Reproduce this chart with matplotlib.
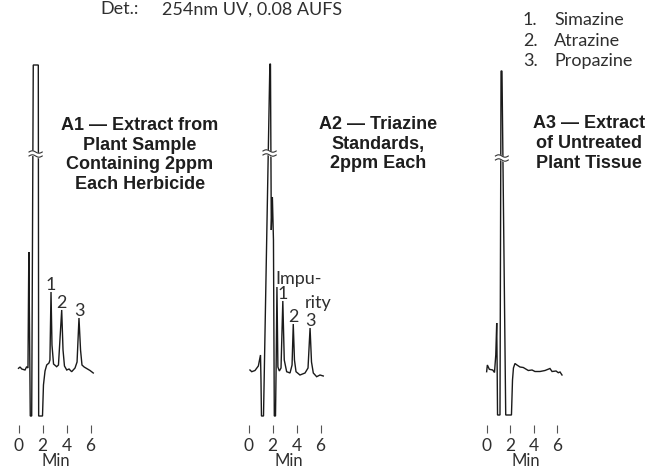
import numpy as np
import matplotlib.pyplot as plt

# chromatogram traces: time (min) and detector signal (relative units, baseline = 0)
t1 = [0.0, 0.13, 0.27, 0.54, 0.68, 0.79, 0.86, 0.92, 0.98, 1.1, 1.23, 1.65, 1.68, 2.0, 2.08, 2.21, 2.35, 2.54, 2.62, 2.71,
      2.79, 2.92, 3.18, 3.33, 3.6, 3.71, 3.83, 4.02, 4.21, 4.43, 4.71, 4.88, 5.04, 5.17, 5.29, 5.47, 5.68, 5.96, 6.23]
s1 = [0.17, 0.3, 0.1, 0.0, 0.33, 0.2, 11.8, 4.0, -4.6, -4.6, 30.5, 30.5, -4.6, -4.6, -1.5, -0.1, 0.5, 0.7, 1.0, 7.8,
      2.5, 0.6, 0.33, 0.5, 6.0, 2.0, 0.4, 0.0, 0.1, -0.17, 0.2, 0.8, 5.2, 2.0, 0.5, 0.3, 0.15, -0.05, -0.3]

t2 = [0.12, 0.27, 0.54, 0.82, 1.0, 1.04, 1.08, 1.25, 1.78, 1.83, 1.9, 1.99, 2.08, 2.15, 2.25, 2.31, 2.37, 2.45, 2.57, 2.71,
      2.86, 2.98, 3.18, 3.46, 3.63, 3.73, 3.83, 3.96, 4.29, 4.71, 4.96, 5.13, 5.25, 5.4, 5.68, 5.96, 6.23]
s2 = [0.0, -0.17, -0.05, 0.4, 1.5, -1.0, -4.6, -4.6, 30.6, 30.6, 14.0, 17.3, 13.0, -4.6, -4.6, 1.0, 8.3, 0.3, -0.1, 0.2,
      6.9, 1.0, -0.17, -0.3, 0.5, 4.6, 1.0, -0.17, -0.5, -0.3, 0.2, 4.2, 0.8, -0.3, -0.67, -0.5, -0.6]

t3 = [-0.03, 0.03, 0.2, 0.49, 0.64, 0.75, 0.83, 0.87, 0.9, 1.11, 1.2, 1.28, 1.6, 2.09, 2.18, 2.26, 2.39, 2.56, 2.82, 3.1,
      3.53, 3.85, 4.1, 4.53, 4.96, 5.38, 5.56, 5.9, 6.09, 6.24, 6.41]
s3 = [-0.17, 0.5, 0.07, 0.0, -0.25, 1.5, 4.7, 0.0, -4.5, -4.5, 29.9, 29.9, -4.5, -4.5, -1.0, 0.2, 0.65, 0.5, 0.3, 0.25,
      -0.05, 0.0, -0.15, -0.15, -0.05, 0.15, -0.15, -0.1, -0.27, -0.2, -0.5]

# numbered peaks (label, retention time)
peaks1 = [('1', 2.71), ('2', 3.6), ('3', 5.04)]
peaks2 = [('1', 2.86), ('2', 3.73), ('3', 5.13)]
peaks3 = []

titles = ['A1 \u2014 Extract from\nPlant Sample\nContaining 2ppm\nEach Herbicide',
          'A2 \u2014 Triazine\nStandards,\n2ppm Each',
          'A3 \u2014 Extract\nof Untreated\nPlant Tissue']
compounds = ['Simazine', 'Atrazine', 'Propazine']
break_levels = [21.6, 21.7, 21.2]
xticks = [0, 2, 4, 6]

LIGHT = ['Lato', 'DejaVu Sans']
BOLD = ['Liberation Sans', 'DejaVu Sans']
GREY = '#2f2f2f'

W, H = 652, 469
fig = plt.figure(figsize=(W / 100, H / 100), dpi=100)


def draw_break(ax, t, s, level, width=1.1):
    t = np.asarray(t)
    s = np.asarray(s)
    idx = np.where(s >= level)[0]
    i0, i1 = idx[0], idx[-1]
    tl = np.interp(level, [s[i0 - 1], s[i0]], [t[i0 - 1], t[i0]])
    tr = np.interp(level, [s[i1 + 1], s[i1]], [t[i1 + 1], t[i1]])
    tc = (tl + tr) / 2
    xx = np.linspace(tc - width / 2, tc + width / 2, 40)
    wave = 0.12 * np.sin((xx - xx[0]) / width * 2 * np.pi)
    gap = 0.2
    ax.fill_between(xx, level - gap + wave, level + gap + wave, color='white', zorder=3)
    ax.plot(xx, level - gap + wave, color='#333', lw=0.8, zorder=4)
    ax.plot(xx, level + gap + wave, color='#333', lw=0.8, zorder=4)


panels = [(t1, s1, peaks1, 18.5, 12.0), (t2, s2, peaks2, 248.5, 12.0), (t3, s3, peaks3, 487.0, 11.7)]
title_pos = [(140, 155), (378, 144), (589, 143.5)]
min_pos = [3.15, 3.35, 3.3]

for i, (t, s, peaks, x0, ppm) in enumerate(panels):
    left = (x0 - 0.5 * ppm) / W
    ax = fig.add_axes([left, 1 - 425 / H, 7.5 * ppm / W, 365 / H])
    ax.set_xlim(-0.5, 7.0)
    ax.set_ylim(-5.5, 31.0)
    ax.plot(t, s, color='#1a1a1a', lw=1.0, solid_joinstyle='miter')
    draw_break(ax, t, s, break_levels[i])
    for lab, pt in peaks:
        ax.annotate(lab, xy=(pt, np.interp(pt, t, s)), xytext=(0, 1.5), textcoords='offset points',
                    ha='center', va='baseline', fontsize=13, family=LIGHT, color=GREY)
    for sp in ax.spines.values():
        sp.set_visible(False)
    ax.set_yticks([])
    ax.set_xticks(xticks)
    ax.tick_params(axis='x', direction='out', length=6, width=0.8, color='#555', pad=3, labelsize=12.5,
                   labelcolor=GREY)
    for lbl in ax.get_xticklabels():
        lbl.set_family(LIGHT)
    # "Min" sits just under the tick labels, baseline in pixels from the top
    ax.text(min_pos[i], (425 - 466) / 365, 'Min', transform=ax.get_xaxis_transform(), ha='center',
            va='baseline', fontsize=12, family=LIGHT, color=GREY, clip_on=False)
    if i == 1:
        ax.text(2.2, 9.1, 'Impu-', ha='left', va='center', fontsize=13, family=LIGHT, color=GREY)
        ax.text(4.7, 6.7, 'rity', ha='left', va='center', fontsize=13, family=LIGHT, color=GREY)
    tx, ty = title_pos[i]
    fig.text(tx / W, 1 - ty / H, titles[i], ha='center', va='center', fontsize=13, family=BOLD,
             fontweight='bold', color='#1e1e1e', linespacing=1.22)

# detector note and compound key
fig.text(100 / W, 1 - 14.5 / H, 'Det.:', va='baseline', fontsize=13, family=LIGHT, color=GREY)
fig.text(162 / W, 1 - 14.5 / H, '254nm UV, 0.08 AUFS', va='baseline', fontsize=13, family=LIGHT, color=GREY)
for k, name in enumerate(compounds):
    y = 1 - (20 + 20.5 * k) / H
    fig.text(523 / W, y, f'{k + 1}.', va='center', fontsize=13, family=LIGHT, color=GREY)
    fig.text(554 / W, y, name, va='center', fontsize=13, family=LIGHT, color=GREY)

fig.savefig('out.png', dpi=100)
